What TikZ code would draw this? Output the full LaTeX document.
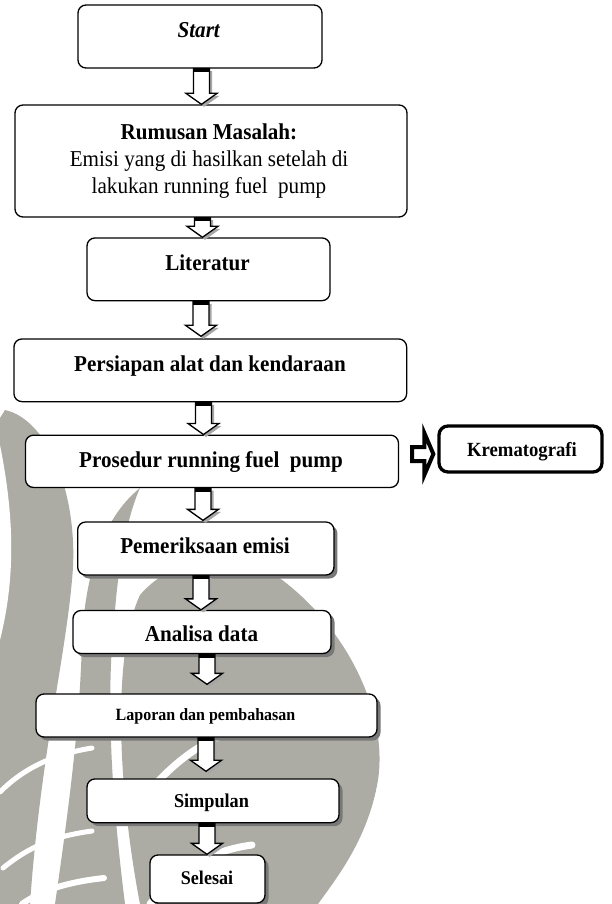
\documentclass[tikz,border=0pt]{standalone}
\usepackage{fontspec}
\setmainfont[FakeStretch=0.93]{Liberation Serif}
\usetikzlibrary{calc,shadows}
\definecolor{wm}{RGB}{172,172,165}
\definecolor{shd}{RGB}{120,120,120}
\tikzset{
  box/.style={draw, line width=1.3pt, rounded corners=8pt, fill=white, inner sep=0pt},
  boxshadow/.style={box, drop shadow={shadow xshift=3.5pt, shadow yshift=-3.5pt, fill=shd, opacity=1}},
  thickbox/.style={draw, line width=3.3pt, rounded corners=9pt, fill=white, inner sep=0pt},
  lbl/.style={anchor=base, inner sep=0pt, font=\bfseries\fontsize{22.7}{26.7}\selectfont},
  blockarrow/.style={draw, line width=1.3pt, fill=white, line join=miter,
     drop shadow={shadow xshift=2.5pt, shadow yshift=-2.5pt, fill=gray!70, opacity=1}},
  blockarrowthick/.style={draw, line width=4pt, fill=white, line join=miter},
  gap/.style={draw=white, line width=#1, line cap=round}
}
\newcommand\blkdown[4]{%
  \draw[blockarrow] let \p1=(#1.south), \p2=(#2.north) in
    (#3pt-8pt,\y1) -- (#3pt-8pt,\y2+#4pt+11pt) -- (#3pt-15.5pt,\y2+#4pt+11pt)
    -- (#3pt,\y2+#4pt) -- (#3pt+15.5pt,\y2+#4pt+11pt) -- (#3pt+8pt,\y2+#4pt+11pt)
    -- (#3pt+8pt,\y1) -- cycle;
  \fill let \p1=(#1.south) in (#3pt-8pt,\y1) rectangle (#3pt+8pt,\y1-3.5pt);
}
\newcommand\blkright[3]{%
  \draw[blockarrowthick] let \p1=(#1.east), \p2=(#2.west) in
    (\x1+13pt,-#3pt+7pt) -- (\x2-13pt,-#3pt+7pt) -- (\x2-13pt,-#3pt+21pt)
    -- (\x2-4pt,-#3pt) -- (\x2-13pt,-#3pt-21pt) -- (\x2-13pt,-#3pt-7pt)
    -- (\x1+13pt,-#3pt-7pt) -- cycle;
}
\begin{document}
\begin{tikzpicture}[x=1pt,y=-1pt]
\useasboundingbox (0,0) rectangle (612,904);
\fill[white] (0,0) rectangle (612,904);
% watermark (faded logo)
\fill[wm] (5,410) .. controls (50,420) and (80,500) .. (72,580) .. controls (65,660) and (40,760) .. (30,904) -- (0,904) -- (0,418) -- cycle;
\fill[white] (0,445) .. controls (15,520) and (15,580) .. (0,640) -- cycle;
\fill[wm] (140,488) .. controls (100,520) and (85,580) .. (82,640) .. controls (80,720) and (70,800) .. (55,904) -- (125,904) .. controls (112,800) and (105,700) .. (115,610) .. controls (120,550) and (130,510) .. (140,488) -- cycle;
\fill[wm] (250,560) .. controls (330,600) and (390,700) .. (378,780) .. controls (368,840) and (335,880) .. (318,904) -- (140,904) .. controls (120,800) and (110,660) .. (140,595) .. controls (170,560) and (220,552) .. (250,560) -- cycle;
\draw[gap=5pt] (0,792) .. controls (25,767) and (55,754) .. (92,748);
\draw[gap=5pt] (3,868) .. controls (30,846) and (55,836) .. (92,831);
\draw[gap=6pt] (22,904) .. controls (42,890) and (68,882) .. (104,878);
\draw[gap=7pt] (150,790) .. controls (190,745) and (225,730) .. (265,724);
\draw[gap=7pt] (150,904) .. controls (180,866) and (215,850) .. (252,845);
% boxes
\node[box, minimum width=244pt, minimum height=63pt] (start) at (200,36.5) {};
\node[box, minimum width=392pt, minimum height=112pt] (rumusan) at (211,161) {};
\node[box, minimum width=243pt, minimum height=62.7pt] (literatur) at (208.5,269.3) {};
\node[box, minimum width=392.7pt, minimum height=62.7pt] (persiapan) at (210.3,370.3) {};
\node[box, minimum width=373pt, minimum height=52.3pt] (prosedur) at (212,461.3) {};
\node[thickbox, minimum width=163pt, minimum height=46pt] (krem) at (520.5,449) {};
\node[boxshadow, minimum width=256.3pt, minimum height=53pt] (pemeriksaan) at (205.8,548.5) {};
\node[boxshadow, minimum width=258pt, minimum height=43pt] (analisa) at (202,632) {};
\node[boxshadow, minimum width=341pt, minimum height=43pt] (laporan) at (206.5,715.5) {};
\node[boxshadow, minimum width=252pt, minimum height=43.7pt] (simpulan) at (213,800.8) {};
\node[boxshadow, minimum width=115pt, minimum height=48pt] (selesai) at (207.5,879) {};
% labels
\node[lbl] (startT) at (199,38) {\textit{Start}};
\node[lbl, align=center] (rumusanT) at (209,193.3) {Rumusan Masalah:\\\mdseries Emisi yang di hasilkan setelah di\\\mdseries lakukan running fuel\ \ pump};
\node[lbl] (literaturT) at (207.5,270.5) {Literatur};
\node[lbl] (persiapanT) at (210,371.5) {Persiapan alat dan kendaraan};
\node[lbl] (prosedurT) at (211,467) {Prosedur running fuel\ \ pump};
\node[lbl, font=\bfseries\fontsize{20.1}{24}\selectfont] (kremT) at (522,456.5) {Krematografi};
\node[lbl] (pemeriksaanT) at (205,553) {Pemeriksaan emisi};
\node[lbl] (analisaT) at (201.5,641) {Analisa data};
\node[lbl, font=\bfseries\fontsize{17.2}{21}\selectfont] (laporanT) at (205.5,720) {Laporan dan pembahasan};
\node[lbl, font=\bfseries\fontsize{19.6}{23}\selectfont] (simpulanT) at (211.5,807.5) {Simpulan};
\node[lbl, font=\bfseries\fontsize{19.4}{23}\selectfont] (selesaiT) at (207,884) {Selesai};
% arrows
\blkdown{start}{rumusan}{201.5}{0}
\blkdown{rumusan}{literatur}{202.5}{0}
\blkdown{literatur}{persiapan}{201}{2}
\blkdown{persiapan}{prosedur}{203.5}{0}
\blkdown{prosedur}{pemeriksaan}{203}{1}
\blkdown{pemeriksaan}{analisa}{201}{0}
\blkdown{analisa}{laporan}{207}{9}
\blkdown{laporan}{simpulan}{206}{7}
\blkdown{simpulan}{selesai}{207}{0}
\blkright{prosedur}{krem}{454}
\end{tikzpicture}
\end{document}
